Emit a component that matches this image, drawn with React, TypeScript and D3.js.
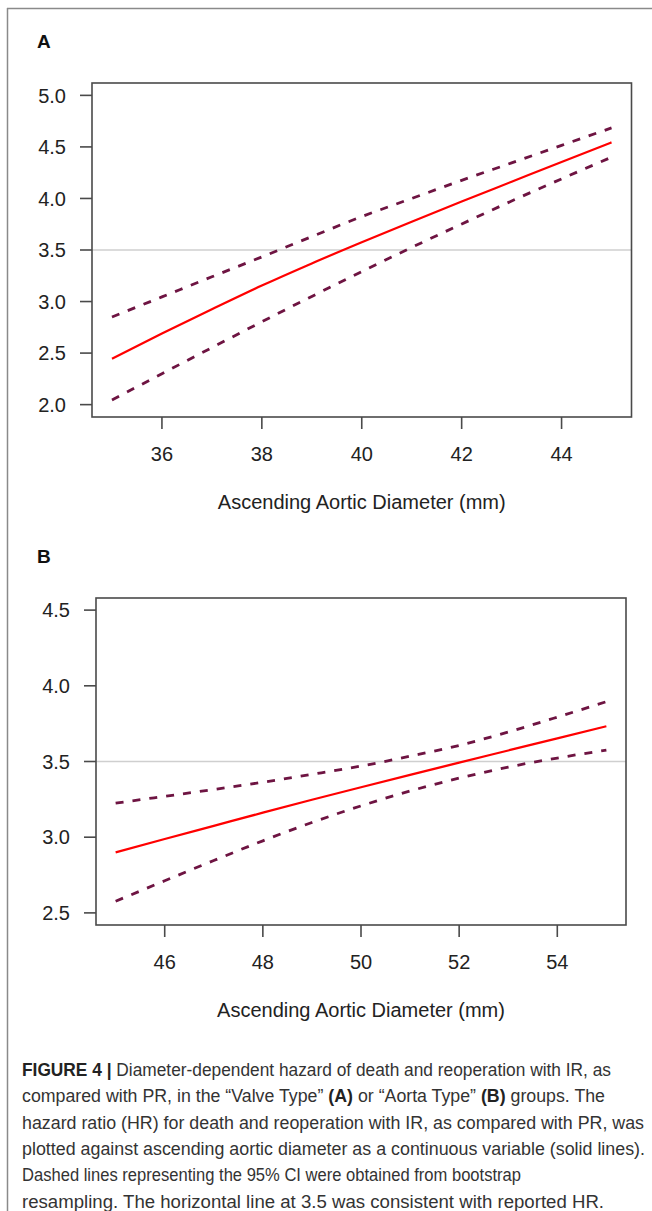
import React from "react";
import * as d3 from "d3";

// ---- data ----
const diamA = [35, 36, 37, 38, 39, 40, 41, 42, 43, 44, 45];
const hrA = [2.446, 2.69, 2.925, 3.155, 3.37, 3.575, 3.775, 3.97, 4.162, 4.354, 4.544];
const upperA = [2.85, 3.045, 3.24, 3.433, 3.63, 3.824, 4.0, 4.176, 4.345, 4.515, 4.684];
const lowerA = [2.045, 2.3, 2.553, 2.804, 3.05, 3.29, 3.525, 3.752, 3.975, 4.19, 4.4];

const diamB = [45, 46, 47, 48, 49, 50, 51, 52, 53, 54, 55];
const hrB = [2.9, 2.988, 3.075, 3.162, 3.247, 3.33, 3.412, 3.493, 3.573, 3.653, 3.733];
const upperB = [3.225, 3.27, 3.315, 3.363, 3.415, 3.47, 3.535, 3.606, 3.695, 3.793, 3.895];
const lowerB = [2.577, 2.712, 2.846, 2.976, 3.097, 3.207, 3.305, 3.39, 3.463, 3.523, 3.575];

const yTicksA = [2.0, 2.5, 3.0, 3.5, 4.0, 4.5, 5.0];
const xTicksA = [36, 38, 40, 42, 44];
const yTicksB = [2.5, 3.0, 3.5, 4.0, 4.5];
const xTicksB = [46, 48, 50, 52, 54];

const refHR = 3.5;
const xTitle = "Ascending Aortic Diameter (mm)";

const FONT = "'Liberation Sans', Arial, Helvetica, sans-serif";
const AXIS = "#4a4a4a";
const DASH = "#6e1442";

type PanelProps = {
  label: string;
  left: number; top: number; right: number; bottom: number;
  xDomain: [number, number]; yDomain: [number, number];
  xs: number[]; hr: number[]; up: number[]; lo: number[];
  xTicks: number[]; yTicks: number[];
};

function Panel(p: PanelProps) {
  const x = d3.scaleLinear().domain(p.xDomain).range([p.left, p.right]);
  const y = d3.scaleLinear().domain(p.yDomain).range([p.bottom, p.top]);
  const line = (vals: number[]) =>
    d3.line<number>()
      .x((_, i) => x(p.xs[i]))
      .y((v) => y(v))
      .curve(d3.curveMonotoneX)(vals) || "";
  const cx = (p.left + p.right) / 2;
  return (
    <g>
      <text x={37} y={p.top - 35} fontFamily={FONT} fontWeight="bold" fontSize={19} fill="#111">
        {p.label}
      </text>
      <line x1={p.left} x2={p.right} y1={y(refHR)} y2={y(refHR)} stroke="#cfcfcf" strokeWidth={1.6} />
      <path d={line(p.up)} fill="none" stroke={DASH} strokeWidth={2.8} strokeDasharray="8 9" />
      <path d={line(p.lo)} fill="none" stroke={DASH} strokeWidth={2.8} strokeDasharray="8 9" />
      <path d={line(p.hr)} fill="none" stroke="#ff0000" strokeWidth={2.2} />
      <rect x={p.left} y={p.top} width={p.right - p.left} height={p.bottom - p.top}
        fill="none" stroke={AXIS} strokeWidth={1.6} />
      {p.yTicks.map((t) => (
        <g key={"y" + t}>
          <line x1={p.left - 12} x2={p.left} y1={y(t)} y2={y(t)} stroke={AXIS} strokeWidth={1.6} />
          <text x={p.left - 26} y={y(t)} dy="0.36em" textAnchor="end" fontFamily={FONT}
            fontSize={20} fill="#222">{d3.format(".1f")(t)}</text>
        </g>
      ))}
      {p.xTicks.map((t) => (
        <g key={"x" + t}>
          <line x1={x(t)} x2={x(t)} y1={p.bottom} y2={p.bottom + 12} stroke={AXIS} strokeWidth={1.6} />
          <text x={x(t)} y={p.bottom + 44} textAnchor="middle" fontFamily={FONT}
            fontSize={20} fill="#222">{t}</text>
        </g>
      ))}
      <text x={cx} y={p.bottom + 92} textAnchor="middle" fontFamily={FONT} fontSize={20} fill="#222">
        {xTitle}
      </text>
    </g>
  );
}

const capStart = 22;
const capBase = 1076;
const capStep = 26.3;
const capEnds = [611, 605, 644, 645, 521, 604];

export default function App() {
  const capFont = "'Liberation Sans Narrow', 'Liberation Sans', Arial, sans-serif";
  const capLine = (i: number, children: React.ReactNode) => (
    <text key={i} x={capStart} y={capBase + i * capStep} fontFamily={capFont} fontSize={17.5}
      fill="#333" textLength={capEnds[i] - capStart} lengthAdjust="spacingAndGlyphs">
      {children}
    </text>
  );
  return (
    <div>
      <style>{`body{margin:0;background:#fff}`}</style>
      <svg width={652} height={1211} style={{ display: "block" }}>
        <rect width={652} height={1211} fill="#fff" />
        <line x1={7.5} x2={7.5} y1={8} y2={1211} stroke="#8a8a8a" strokeWidth={1.5} />
        <line x1={7} x2={652} y1={8.5} y2={8.5} stroke="#8a8a8a" strokeWidth={1.5} />
        <Panel label="A" left={92} top={83} right={631.5} bottom={417}
          xDomain={[34.6, 45.4]} yDomain={[1.88, 5.12]}
          xs={diamA} hr={hrA} up={upperA} lo={lowerA} xTicks={xTicksA} yTicks={yTicksA} />
        <Panel label="B" left={96} top={598} right={626} bottom={925}
          xDomain={[44.6, 55.4]} yDomain={[2.42, 4.58]}
          xs={diamB} hr={hrB} up={upperB} lo={lowerB} xTicks={xTicksB} yTicks={yTicksB} />
        {capLine(0, <><tspan fontWeight="bold" fill="#222">FIGURE 4 |</tspan> Diameter-dependent hazard of death and reoperation with IR, as</>)}
        {capLine(1, <>compared with PR, in the “Valve Type” <tspan fontWeight="bold" fill="#222">(A)</tspan> or “Aorta Type” <tspan fontWeight="bold" fill="#222">(B)</tspan> groups. The</>)}
        {capLine(2, <>hazard ratio (HR) for death and reoperation with IR, as compared with PR, was</>)}
        {capLine(3, <>plotted against ascending aortic diameter as a continuous variable (solid lines).</>)}
        {capLine(4, <>Dashed lines representing the 95% CI were obtained from bootstrap</>)}
        {capLine(5, <>resampling. The horizontal line at 3.5 was consistent with reported HR.</>)}
      </svg>
    </div>
  );
}
